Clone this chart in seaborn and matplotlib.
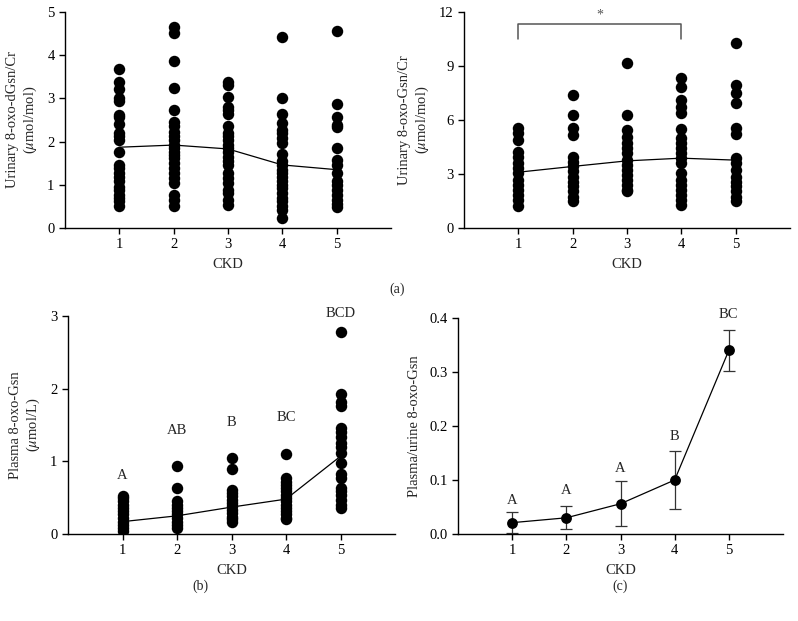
import numpy as np
import pandas as pd
import matplotlib
matplotlib.use("Agg")
import matplotlib.pyplot as plt
import seaborn as sns

# ---------------- data ----------------
ckd = [1, 2, 3, 4, 5]

# (a) left: Urinary 8-oxo-dGsn/Cr
dgsn_1 = [3.69, 3.38, 3.21, 3.0, 2.94, 2.62, 2.58, 2.4, 2.19, 2.12, 2.04, 1.77, 1.46, 1.38, 1.27, 1.19, 1.08, 0.96, 0.88, 0.77, 0.69, 0.62, 0.5]
dgsn_2 = [4.65, 4.52, 3.87, 3.25, 2.73, 2.46, 2.35, 2.23, 2.12, 2.04, 1.92, 1.85, 1.77, 1.69, 1.62, 1.5, 1.38, 1.27, 1.15, 1.04, 0.77, 0.65, 0.5]
dgsn_3 = [3.38, 3.31, 3.04, 2.81, 2.73, 2.65, 2.36, 2.19, 2.12, 2.04, 1.92, 1.85, 1.77, 1.65, 1.54, 1.46, 1.27, 1.15, 1.04, 0.88, 0.81, 0.65, 0.54]
dgsn_4 = [4.42, 3.02, 2.65, 2.42, 2.27, 2.19, 2.08, 1.96, 1.72, 1.54, 1.46, 1.35, 1.27, 1.19, 1.08, 1.0, 0.92, 0.81, 0.69, 0.62, 0.5, 0.42, 0.22]
dgsn_5 = [4.56, 2.86, 2.58, 2.38, 2.33, 1.85, 1.58, 1.46, 1.28, 1.08, 1.0, 0.88, 0.77, 0.65, 0.56, 0.48]
dgsn_mean = [1.87, 1.92, 1.83, 1.46, 1.35]

# (a) right: Urinary 8-oxo-Gsn/Cr
gsn_1 = [5.54, 5.26, 4.89, 4.25, 3.97, 3.6, 3.32, 3.05, 2.68, 2.4, 2.12, 1.85, 1.57, 1.2]
gsn_2 = [7.38, 6.28, 5.54, 5.17, 3.97, 3.69, 3.42, 3.14, 2.86, 2.58, 2.31, 2.03, 1.75, 1.48]
gsn_3 = [9.18, 6.28, 5.45, 5.08, 4.71, 4.43, 4.15, 3.78, 3.51, 3.23, 2.95, 2.68, 2.4, 2.12, 2.03]
gsn_4 = [8.34, 7.85, 7.11, 6.74, 6.37, 5.48, 4.98, 4.71, 4.43, 4.15, 3.88, 3.6, 3.05, 2.68, 2.4, 2.12, 1.85, 1.57, 1.29]
gsn_5 = [10.28, 7.94, 7.48, 6.92, 5.58, 5.2, 3.88, 3.6, 3.23, 2.86, 2.58, 2.31, 2.03, 1.75, 1.48]
gsn_mean = [3.1, 3.42, 3.73, 3.88, 3.77]

# (b): Plasma 8-oxo-Gsn
pl_1 = [0.52, 0.49, 0.45, 0.4, 0.36, 0.31, 0.27, 0.22, 0.17, 0.13, 0.08, 0.04]
pl_2 = [0.94, 0.63, 0.45, 0.4, 0.36, 0.31, 0.27, 0.22, 0.17, 0.13, 0.08]
pl_3 = [1.05, 0.9, 0.61, 0.56, 0.52, 0.47, 0.43, 0.38, 0.33, 0.29, 0.24, 0.2, 0.17]
pl_4 = [1.1, 0.77, 0.72, 0.68, 0.63, 0.59, 0.54, 0.49, 0.45, 0.4, 0.36, 0.31, 0.27, 0.22, 0.2]
pl_5 = [2.78, 1.92, 1.82, 1.76, 1.46, 1.41, 1.34, 1.25, 1.2, 1.11, 0.98, 0.82, 0.77, 0.63, 0.59, 0.54, 0.47, 0.4, 0.36]
pl_mean = [0.17, 0.25, 0.37, 0.48, 1.07]
pl_letters = ["A", "AB", "B", "BC", "BCD"]
pl_letter_y = [0.8, 1.43, 1.53, 1.6, 3.03]

# (c): Plasma/urine ratio
ratio_mean = [0.021, 0.030, 0.056, 0.100, 0.340]
ratio_err = [0.019, 0.021, 0.042, 0.053, 0.038]
ratio_letters = ["A", "A", "A", "B", "BC"]
ratio_letter_y = [0.062, 0.080, 0.122, 0.180, 0.406]

# ---------------- style ----------------
sns.set_theme(style="ticks")
plt.rcParams["font.family"] = ["Liberation Serif", "DejaVu Serif"]
plt.rcParams["mathtext.fontset"] = "stix"
plt.rcParams["font.size"] = 10
plt.rcParams["axes.linewidth"] = 1.0
plt.rcParams["xtick.major.width"] = 1.0
plt.rcParams["ytick.major.width"] = 1.0
plt.rcParams["xtick.major.size"] = 4
plt.rcParams["ytick.major.size"] = 4
plt.rcParams["xtick.color"] = "black"
plt.rcParams["ytick.color"] = "black"
plt.rcParams["axes.edgecolor"] = "black"

W, H = 798, 621
fig = plt.figure(figsize=(W / 100, H / 100), dpi=100)


def rect(l, r, t, b):
    return [l / W, 1 - b / H, (r - l) / W, (b - t) / H]


ax1 = fig.add_axes(rect(65, 391, 12, 228))
ax2 = fig.add_axes(rect(464, 790, 12, 228))
ax3 = fig.add_axes(rect(68, 395, 316, 534))
ax4 = fig.add_axes(rect(458, 783, 318, 534))


def long_df(groups):
    xs, ys = [], []
    for k, g in zip(ckd, groups):
        xs += [k] * len(g)
        ys += list(g)
    return pd.DataFrame({"CKD": xs, "val": ys})


MS = 68
FS = 10.5


def scatter_panel(ax, groups, means, ylim, yticks, ylabel):
    df = long_df(groups)
    sns.scatterplot(data=df, x="CKD", y="val", ax=ax, color="black", s=MS,
                    edgecolor="black", linewidth=0, zorder=3, legend=False)
    mdf = pd.DataFrame({"CKD": ckd, "m": means})
    sns.lineplot(data=mdf, x="CKD", y="m", ax=ax, color="black", lw=0.9, zorder=4)
    ax.set_xlim(0, 6)
    ax.set_ylim(*ylim)
    ax.set_xticks(ckd)
    ax.set_yticks(yticks)
    ax.set_xlabel("CKD", fontsize=FS, labelpad=5)
    ax.set_ylabel(ylabel, fontsize=FS, labelpad=6)
    sns.despine(ax=ax)
    ax.tick_params(labelsize=FS)


scatter_panel(ax1, [dgsn_1, dgsn_2, dgsn_3, dgsn_4, dgsn_5], dgsn_mean, (0, 5),
              [0, 1, 2, 3, 4, 5], "Urinary 8-oxo-dGsn/Cr\n($\\mu$mol/mol)")
scatter_panel(ax2, [gsn_1, gsn_2, gsn_3, gsn_4, gsn_5], gsn_mean, (0, 12),
              [0, 3, 6, 9, 12], "Urinary 8-oxo-Gsn/Cr\n($\\mu$mol/mol)")
scatter_panel(ax3, [pl_1, pl_2, pl_3, pl_4, pl_5], pl_mean, (0, 3),
              [0, 1, 2, 3], "Plasma 8-oxo-Gsn\n($\\mu$mol/L)")

# significance bracket in (a) right
ax2.plot([1, 1, 4, 4], [10.5, 11.33, 11.33, 10.5], color="#555555", lw=1.1,
         clip_on=False)
ax2.text(2.5, 11.85, "*", ha="center", va="center", fontsize=10, color="#555555")

for k, lab, yy in zip(ckd, pl_letters, pl_letter_y):
    ax3.text(k, yy, lab, ha="center", va="center", fontsize=FS)

# (c)
rdf = pd.DataFrame({"CKD": ckd, "m": ratio_mean})
ax4.errorbar(ckd, ratio_mean, yerr=ratio_err, fmt="none", ecolor="#333333",
             elinewidth=0.9, capsize=4, capthick=0.9, zorder=2)
sns.lineplot(data=rdf, x="CKD", y="m", ax=ax4, color="black", lw=0.9,
             marker="o", markersize=7.8, markeredgewidth=0, zorder=3)
ax4.set_xlim(0, 6)
ax4.set_ylim(0, 0.4)
ax4.set_xticks(ckd)
ax4.set_yticks([0.0, 0.1, 0.2, 0.3, 0.4])
ax4.set_yticklabels(["0.0", "0.1", "0.2", "0.3", "0.4"])
ax4.set_xlabel("CKD", fontsize=FS, labelpad=5)
ax4.set_ylabel("Plasma/urine 8-oxo-Gsn", fontsize=FS, labelpad=6)
ax4.tick_params(labelsize=FS)
sns.despine(ax=ax4)
for k, lab, yy in zip(ckd, ratio_letters, ratio_letter_y):
    ax4.text(k, yy, lab, ha="center", va="center", fontsize=FS)

fig.text(397 / W, 1 - 289 / H, "(a)", ha="center", va="center", fontsize=10)
fig.text(200 / W, 1 - 586 / H, "(b)", ha="center", va="center", fontsize=10)
fig.text(620 / W, 1 - 586 / H, "(c)", ha="center", va="center", fontsize=10)

fig.savefig("out.png", dpi=100)
